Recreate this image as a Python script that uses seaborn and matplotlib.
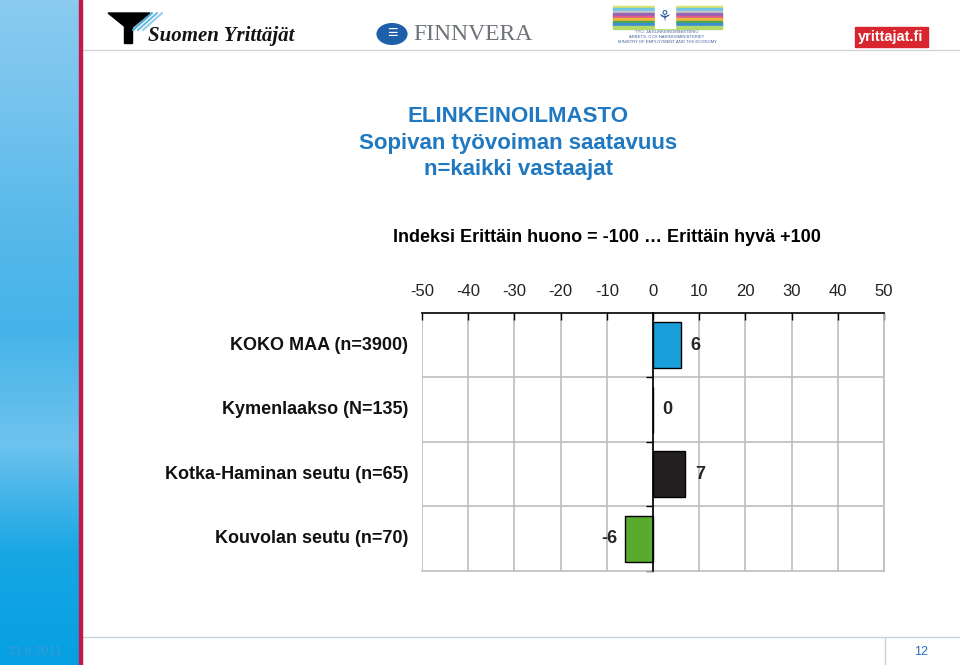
import numpy as np
import pandas as pd
import matplotlib
matplotlib.use("Agg")
import matplotlib.pyplot as plt
import matplotlib.transforms as mtransforms
from matplotlib.patches import Rectangle, Circle, Polygon
from matplotlib.lines import Line2D
from matplotlib.colors import LinearSegmentedColormap
import seaborn as sns

# ---- data ----
categories = ["KOKO MAA (n=3900)", "Kymenlaakso (N=135)",
              "Kotka-Haminan seutu (n=65)", "Kouvolan seutu (n=70)"]
values = [6, 0, 7, -6]
bar_colors = ["#1a9fdb", "#231f20", "#231f20", "#5aaa2e"]
x_ticks = [-50, -40, -30, -20, -10, 0, 10, 20, 30, 40, 50]
title_lines = ["ELINKEINOILMASTO", "Sopivan työvoiman saatavuus", "n=kaikki vastaajat"]
subtitle = "Indeksi Erittäin huono = -100 \u2026 Erittäin hyvä +100"

sns.set_theme(style="white")
plt.rcParams['font.family'] = ['Liberation Sans', 'DejaVu Sans']

W, H = 960, 665
fig = plt.figure(figsize=(9.6, 6.65), dpi=100)
fig.patch.set_facecolor("white")

def fx(px):
    return px / W

def fy(py):
    return 1 - py / H

# ---- left gradient band ----
bg = fig.add_axes([0, 0, fx(79), 1])
grad = np.linspace(0, 1, 256).reshape(-1, 1)
cmap = LinearSegmentedColormap.from_list(
    "band", ["#8acbef", "#74c3ee", "#58b9ea", "#45b3e8", "#6ec3ee", "#18a6e4", "#05a0e2"])
bg.imshow(grad, aspect="auto", cmap=cmap, extent=[0, 1, 0, 1], origin="upper")
bg.set_axis_off()

fig.add_artist(Rectangle((fx(79), 0), fx(3), 1, transform=fig.transFigure,
                         color="#c4174a", zorder=5))

# header / footer lines
fig.add_artist(Line2D([fx(82), 1], [fy(50), fy(50)], transform=fig.transFigure,
                      color="#d2d6da", lw=1))
fig.add_artist(Line2D([fx(82), 1], [fy(637), fy(637)], transform=fig.transFigure,
                      color="#c5d3de", lw=1))
fig.add_artist(Line2D([fx(885), fx(885)], [fy(637), 0], transform=fig.transFigure,
                      color="#c5d3de", lw=1))
fig.text(fx(921), fy(652), "12", color="#1f6fc0", fontsize=9, ha="center", va="center")
fig.text(fx(35), fy(652), "23.8.2011", color="#3a9ad8", fontsize=9, ha="center", va="center")

# ---- logos (approximations) ----
fig.add_artist(Polygon([[fx(108), fy(13)], [fx(150), fy(13)], [fx(129), fy(30)]],
                       closed=True, transform=fig.transFigure, color="black"))
fig.add_artist(Rectangle((fx(124), fy(43)), fx(8), fy(26) - fy(43), transform=fig.transFigure,
                         color="black"))
for i, c in enumerate(["#4aa8d8", "#6bbbe2", "#93cdea"]):
    fig.add_artist(Line2D([fx(133 + i * 5), fx(152 + i * 5)], [fy(30), fy(13)],
                          transform=fig.transFigure, color=c, lw=1.5))
fig.text(fx(148), fy(36), "Suomen Yrittäjät", family=["Liberation Serif", "DejaVu Serif"],
         fontweight="bold", fontstyle="italic", fontsize=15, color="#141414",
         ha="left", va="center")

fig.add_artist(Circle((fx(392), fy(34)), 0.0155, transform=fig.transFigure,
                      color="#1d5fa8"))
fig.text(fx(392), fy(34), "\u2261", color="white", fontsize=13, ha="center", va="center",
         fontweight="bold")
fig.text(fx(413), fy(35), "FINNVERA", family=["Liberation Serif", "DejaVu Serif"],
         fontsize=17, color="#6e7378", ha="left", va="center")

stripe_cols = ["#d9e36b", "#6ec6e4", "#c7c7c7", "#9a62b4", "#e05a8c", "#f0b43c",
               "#4ea84a", "#3b8fd0", "#b3d86a"]
for i, c in enumerate(stripe_cols):
    fig.add_artist(Rectangle((fx(613), fy(6 + (i + 1) * 2.5)), fx(109), 2.5 / H,
                             transform=fig.transFigure, color=c))
fig.add_artist(Rectangle((fx(655), fy(28)), fx(20), 23 / H, transform=fig.transFigure,
                         color="white"))
fig.text(fx(665), fy(17), "\u2698", color="#2a5aa0", fontsize=11, ha="center", va="center")
for j, t in enumerate(["TYÖ- JA ELINKEINOMINISTERIÖ", "ARBETS- OCH NÄRINGSMINISTERIET",
                       "MINISTRY OF EMPLOYMENT AND THE ECONOMY"]):
    fig.text(fx(667), fy(32 + j * 5), t, fontsize=3, color="#4060a0",
             ha="center", va="center")

fig.add_artist(Rectangle((fx(855), fy(47)), fx(73), 20 / H, transform=fig.transFigure,
                         color="#d8252e"))
fig.text(fx(891), fy(37), "yrittajat.fi", color="white", fontsize=10.5, fontweight="bold",
         ha="center", va="center")

# ---- titles ----
for i, t in enumerate(title_lines):
    fig.text(fx(518), fy(116 + i * 27), t, color="#1f78c0", fontsize=16,
             fontweight="bold", ha="center", va="center")
fig.text(fx(607), fy(238), subtitle, color="black", fontsize=13, fontweight="bold",
         ha="center", va="center")

# ---- chart ----
ax = fig.add_axes([fx(422), fy(571), fx(884) - fx(422), fy(313) - fy(571)])
df = pd.DataFrame({"cat": categories, "val": values})
sns.barplot(data=df, x="val", y="cat", hue="cat", palette=bar_colors, legend=False,
            orient="h", width=0.72, saturation=1, edgecolor="black", linewidth=1,
            ax=ax, zorder=3)
ax.set_xlim(-50, 50)
ax.set_ylim(3.5, -0.5)
ax.set_xlabel("")
ax.set_ylabel("")
ax.set_facecolor("white")

ax.xaxis.tick_top()
ax.set_xticks(x_ticks)
ax.set_xticklabels([str(v) for v in x_ticks])
ax.tick_params(axis="x", direction="in", length=5, width=1, color="black",
               labelsize=12, labelcolor="#222222", pad=10, top=True, bottom=False)
for xv in x_ticks:
    ax.axvline(xv, color="#bdbdbd", lw=1.2, zorder=0)
for yv in [0.5, 1.5, 2.5]:
    ax.axhline(yv, color="#bdbdbd", lw=1.2, zorder=0)

ax.set_yticks([0.5, 1.5, 2.5, 3.5])
ax.set_yticklabels(["", "", "", ""])
ax.tick_params(axis="y", direction="out", length=5, width=1, color="black", left=True)
ax.spines["left"].set_position(("data", 0))
ax.spines["left"].set_color("black")
ax.spines["left"].set_linewidth(1.2)
ax.spines["left"].set_zorder(4)
ax.spines["top"].set_color("black")
ax.spines["top"].set_linewidth(1.2)
ax.spines["right"].set_color("#bdbdbd")
ax.spines["bottom"].set_color("#bdbdbd")
for s in ["right", "bottom"]:
    ax.spines[s].set_linewidth(1.2)

trans = mtransforms.blended_transform_factory(ax.transAxes, ax.transData)
for i, c in enumerate(categories):
    ax.text(-0.03, i, c, transform=trans, ha="right", va="center", fontsize=13,
            fontweight="bold", color="#111111")

for i, v in enumerate(values):
    if v >= 0:
        ax.annotate(str(v), (v, i), xytext=(7, 0), textcoords="offset points",
                    ha="left", va="center", fontsize=13, fontweight="bold")
    else:
        ax.annotate(str(v), (v, i), xytext=(-6, 0), textcoords="offset points",
                    ha="right", va="center", fontsize=13, fontweight="bold")

fig.savefig("out.png", dpi=100)
